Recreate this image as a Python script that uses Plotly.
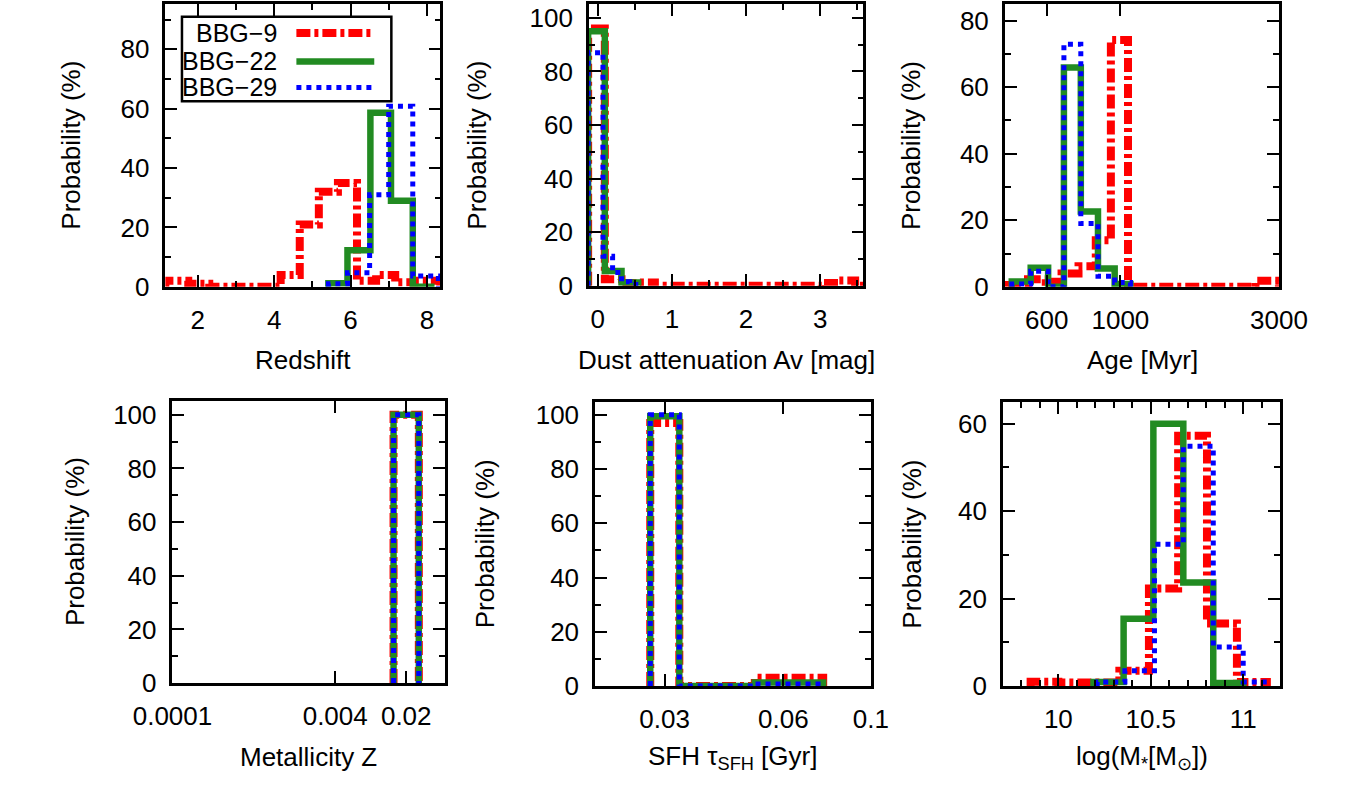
import plotly.graph_objects as go

W, H = 1369, 795

NAMES = ["BBG−9", "BBG−22", "BBG−29"]
COLORS = ["#ff0000", "#228b22", "#0000ff"]
DASHES = ["14px,4px,4px,4px", "solid", "5px,5px"]
WIDTHS = [8, 6.5, 5]

# ---- Redshift PDFs (bin edges / probability in %) ----
z_red_edges = [1.15, 1.75, 2.3, 4.17, 4.67, 5.17, 5.67, 6.17, 6.67, 7.17, 7.67, 8.35]
z_red_vals = [2, 1, 0, 4, 21, 32, 35, 2, 4, 1.5, 2]
z_green_edges = [5.42, 5.92, 6.52, 7.06, 7.63, 8.2]
z_green_vals = [1.2, 12.3, 58.6, 29, 0]
z_blue_edges = [5.42, 5.92, 6.5, 7.0, 7.63, 8.3]
z_blue_vals = [1, 4.7, 31, 60.8, 3.6]

# ---- Dust attenuation Av ----
av_red_edges = [-0.13, 0.095, 0.32, 0.545, 0.77, 3.02, 3.245, 3.47, 3.58]
av_red_vals = [96, 2.4, 1, 1.2, 0, 1, 2, 0]
av_green_edges = [-0.13, 0.095, 0.32, 0.545]
av_green_vals = [95, 5.5, 1.2]
av_blue_edges = [-0.13, 0.07, 0.2, 0.32, 0.43, 0.55]
av_blue_vals = [87, 11, 5, 1.5, 0.5]

# ---- Age [Myr] ----
age_red_edges = [460, 527, 596, 665, 748, 843, 936, 1054, 2550, 3000]
age_red_vals = [0.5, 2.3, 1.5, 4, 6.2, 14, 74.2, 0, 1.8]
age_green_edges = [471, 537, 606, 676, 760, 856, 961, 1072]
age_green_vals = [1.6, 5.7, 0, 65.9, 22.6, 5.5, 0.8]
age_blue_edges = [471, 537, 606, 676, 760, 856, 961, 1072]
age_blue_vals = [0.8, 4.7, 0, 72.9, 19, 3.2, 1.3]

# ---- Metallicity Z ----
met_edges = [0.015, 0.0266]
met_red_vals = [100]
met_green_vals = [100]
met_blue_vals = [100]

# ---- SFH tau [Gyr] ----
tau_edges = [0.0276, 0.0327, 0.0508, 0.0757]
tau_red_vals = [97, 0, 3.1]
tau_green_vals = [99.5, 0, 1.3]
tau_blue_vals = [100, 0, 0.8]

# ---- Stellar mass log(M*) ----
m_red_edges = [9.85, 10.0, 10.17, 10.33, 10.49, 10.648, 10.804, 10.966, 11.128]
m_red_vals = [1, 0.8, 0.8, 3.5, 22.3, 57.2, 14.3, 0.9]
m_green_edges = [10.19, 10.353, 10.514, 10.676, 10.838, 11.0]
m_green_vals = [0.9, 15.4, 60, 23.7, 0.7]
m_blue_edges = [10.21, 10.36, 10.52, 10.676, 10.838, 11.0, 11.128]
m_blue_vals = [0.9, 3.5, 32.4, 54.8, 8.9, 0.9]

panels_data = [
    [(z_red_edges, z_red_vals), (z_green_edges, z_green_vals), (z_blue_edges, z_blue_vals)],
    [(av_red_edges, av_red_vals), (av_green_edges, av_green_vals), (av_blue_edges, av_blue_vals)],
    [(age_red_edges, age_red_vals), (age_green_edges, age_green_vals), (age_blue_edges, age_blue_vals)],
    [(met_edges, met_red_vals), (met_edges, met_green_vals), (met_edges, met_blue_vals)],
    [(tau_edges, tau_red_vals), (tau_edges, tau_green_vals), (tau_edges, tau_blue_vals)],
    [(m_red_edges, m_red_vals), (m_green_edges, m_green_vals), (m_blue_edges, m_blue_vals)],
]

# panel boxes in pixels: left, right, top, bottom
boxes = [
    (132, 421.5, 2, 291),
    (578, 867, 2, 290),
    (1016, 1305, 2, 291),
    (139.5, 426, 407.5, 696),
    (584.5, 875, 408.5, 699),
    (1014, 1306, 408.5, 699),
]
# vertical centre of each x-axis title (pixels from top)
xtitle_y = [366, 366, 366, 772, 772, 772]
# horizontal centre of each y-axis title (pixels from left)
ytitle_x = [33, 460, 918, 37, 468, 918]

FONT = "Liberation Sans, Arial, Helvetica, sans-serif"
FS = 26

xaxes = [
    dict(type="linear", range=[1.15, 8.35], tick0=0, dtick=2, minor=dict(dtick=1)),
    dict(type="linear", range=[-0.12, 3.58], tick0=0, dtick=1, minor=dict(dtick=0.5)),
    dict(type="log", range=[2.652, 3.478], tickmode="array",
         tickvals=[600, 1000, 3000], ticktext=["600", "1000", "3000"]),
    dict(type="log", range=[-4, -1.322], tickmode="array",
         tickvals=[0.0001, 0.004, 0.02], ticktext=["0.0001", "0.004", "0.02"]),
    dict(type="log", range=[-1.699, -1.0], tickmode="array",
         tickvals=[0.03, 0.06, 0.1], ticktext=["0.03", "0.06", "0.1"]),
    dict(type="linear", range=[9.7, 11.2], tick0=10, dtick=0.5, minor=dict(dtick=0.1)),
]
yranges = [[0, 95.3], [0, 105.2], [0, 85], [0, 105.2], [0, 104.8], [0, 65]]

xtitles = ["Redshift", "Dust attenuation Av [mag]", "Age [Myr]",
           "Metallicity Z", "SFH τ<sub>SFH</sub> [Gyr]", "log(M<sub>*</sub>[M<sub>⊙</sub>])"]

fig = go.Figure()


def step_xy(edges, vals):
    xs = [edges[0]] + list(edges)
    ys = [0] + list(vals) + [0]
    return xs, ys


for i, series in enumerate(panels_data):
    ax = "" if i == 0 else str(i + 1)
    for k, (edges, vals) in enumerate(series):
        xs, ys = step_xy(edges, vals)
        fig.add_trace(go.Scatter(
            x=xs, y=ys, mode="lines", line_shape="hv", name=NAMES[k],
            showlegend=False,
            line=dict(color=COLORS[k], width=WIDTHS[k], dash=DASHES[k]),
            xaxis="x" + ax, yaxis="y" + ax, hoverinfo="skip",
        ))

common = dict(
    showline=True, linecolor="black", linewidth=2.5, mirror="allticks",
    ticks="inside", ticklen=12, tickwidth=2, tickcolor="black",
    showgrid=False, zeroline=False,
    tickfont=dict(family=FONT, size=FS, color="black"),
)
minor_common = dict(ticks="inside", ticklen=6, tickwidth=2, tickcolor="black", showgrid=False)

layout = {}
for i, (l, r, t, b) in enumerate(boxes):
    ax = "" if i == 0 else str(i + 1)
    xa = dict(common)
    xa.update(xaxes[i])
    if "minor" in xa:
        mn = dict(minor_common)
        mn.update(xa["minor"])
        xa["minor"] = mn
    xa["domain"] = [l / W, r / W]
    xa["anchor"] = "y" + ax
    xa["ticklabelstandoff"] = 8
    ya = dict(common)
    ya.update(dict(range=yranges[i], tick0=0, dtick=20,
                   minor=dict(minor_common, dtick=10)))
    ya["domain"] = [1 - b / H, 1 - t / H]
    ya["anchor"] = "x" + ax
    ya["ticklabelstandoff"] = 8
    layout["xaxis" + ax] = xa
    layout["yaxis" + ax] = ya

annotations = []
for i, (l, r, t, b) in enumerate(boxes):
    annotations.append(dict(
        text=xtitles[i], xref="paper", yref="paper",
        x=(l + r) / 2 / W, y=1 - xtitle_y[i] / H, xanchor="center", yanchor="middle",
        showarrow=False, font=dict(family=FONT, size=FS, color="black")))
    annotations.append(dict(
        text="Probability (%)", xref="paper", yref="paper", textangle=-90,
        x=ytitle_x[i] / W, y=1 - (t + b) / 2 / H, xanchor="center", yanchor="middle",
        showarrow=False, font=dict(family=FONT, size=FS, color="black")))

# key box in the redshift panel
shapes = [dict(type="rect", xref="paper", yref="paper",
               x0=149.5 / W, x1=370 / W, y0=1 - 101.5 / H, y1=1 - 15 / H,
               line=dict(color="black", width=2.5), fillcolor="white", layer="above")]
key_rows = [31.7, 60.7, 87.3]
for k, yy in enumerate(key_rows):
    annotations.append(dict(
        text=NAMES[k], xref="paper", yref="paper", x=252 / W, y=1 - yy / H,
        xanchor="right", yanchor="middle", showarrow=False,
        font=dict(family=FONT, size=25, color="black")))
    shapes.append(dict(type="line", xref="paper", yref="paper",
                       x0=270 / W, x1=352 / W, y0=1 - yy / H, y1=1 - yy / H,
                       line=dict(color=COLORS[k], width=WIDTHS[k], dash=DASHES[k]),
                       layer="above"))

fig.update_layout(
    width=W, height=H, margin=dict(l=0, r=0, t=0, b=0),
    paper_bgcolor="white", plot_bgcolor="white",
    showlegend=False, annotations=annotations, shapes=shapes,
    **layout,
)

fig.write_html("out.html")
